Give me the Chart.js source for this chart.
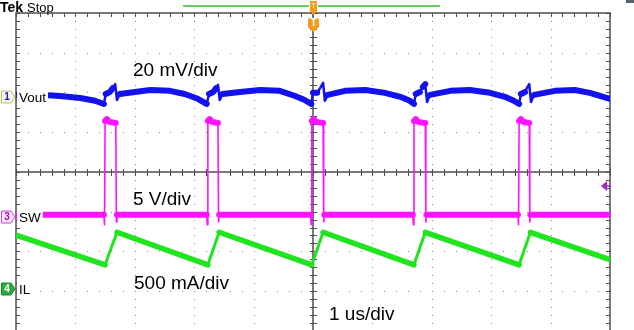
<!DOCTYPE html>
<html>
<head>
<meta charset="utf-8">
<script src="https://cdn.jsdelivr.net/npm/chart.js@4.4.0/dist/chart.umd.min.js"></script>
<style>
  html, body { margin: 0; padding: 0; background: #fff; }
  canvas { display: block; }
</style>
</head>
<body>
<canvas id="scope" width="634" height="330"></canvas>
<script>
// time in us (1 us/div, 0 = trigger), vertical values in screen divisions
const voutTime = [
  -5.00, -4.60, -4.26, -3.92, -3.67, -3.52, -3.49, -3.42, -3.37, -3.33, -3.30, -3.25, -3.00, -2.74, -2.41, -2.16, -1.94, -1.79,
  -1.75, -1.68, -1.63, -1.60, -1.57, -1.52, -1.23, -0.89, -0.56, -0.30, -0.14, -0.03,
  0.00, 0.07, 0.12, 0.17, 0.20, 0.25, 0.54, 0.88, 1.21, 1.47, 1.63, 1.70,
  1.73, 1.80, 1.85, 1.89, 1.92, 1.97, 2.31, 2.64, 2.98, 3.23, 3.38, 3.47,
  3.50, 3.57, 3.60, 3.64, 3.67, 3.72, 4.07, 4.41, 4.66, 5.00
];
const voutDiv = [
  1.94, 1.94, 1.91, 1.86, 1.79, 1.71, 1.96, 2.01, 2.11, 2.21, 1.81, 1.96, 2.01, 2.06, 2.04, 1.96, 1.84, 1.71,
  1.96, 2.01, 2.11, 2.19, 1.81, 1.96, 2.01, 2.06, 2.04, 1.91, 1.81, 1.71,
  1.99, 1.99, 2.11, 2.24, 1.79, 1.94, 2.04, 2.06, 1.99, 1.89, 1.79, 1.71,
  1.96, 2.01, 2.14, 2.21, 1.76, 1.94, 2.04, 2.06, 1.99, 1.89, 1.79, 1.71,
  1.96, 2.01, 2.11, 2.21, 1.76, 1.94, 2.04, 2.06, 1.99, 1.84
];

const swTime = [
  -5.00,
  -3.52, -3.51, -3.50, -3.47, -3.43, -3.32, -3.31, -3.30,
  -1.79, -1.78, -1.77, -1.74, -1.70, -1.60, -1.59, -1.58,
  -0.04, -0.03, -0.02, 0.01, 0.05, 0.17, 0.18, 0.19,
  1.68, 1.69, 1.70, 1.73, 1.77, 1.89, 1.90, 1.91,
  3.45, 3.46, 3.47, 3.50, 3.54, 3.64, 3.65, 3.66,
  5.00
];
const swDiv = [
  -1.08,
  -1.08, -1.33, 1.28, 1.33, 1.26, 1.23, -1.26, -1.08,
  -1.08, -1.33, 1.28, 1.33, 1.26, 1.23, -1.26, -1.08,
  -1.08, -1.33, 1.28, 1.33, 1.26, 1.23, -1.26, -1.08,
  -1.08, -1.33, 1.28, 1.33, 1.26, 1.23, -1.26, -1.08,
  -1.08, -1.33, 1.28, 1.33, 1.26, 1.23, -1.26, -1.08,
  -1.08
];

const ilTime = [-5.00, -3.50, -3.30, -1.77, -1.58, -0.02, 0.17, 1.70, 1.89, 3.47, 3.66, 5.00];
const ilDiv = [-1.59, -2.34, -1.52, -2.34, -1.52, -2.34, -1.52, -2.34, -1.52, -2.34, -1.52, -2.21];

// channel names and ground markers (divisions)
const channelNames = ["Vout", "SW", "IL"];
const channelNumbers = ["1", "3", "4"];
const channelLevels = [1.89, -1.13, -2.95];
const scaleTexts = ["20 mV/div", "5 V/div", "500 mA/div", "1 us/div"];

const toPoints = (ts, vs) => ts.map((t, i) => ({ x: t, y: vs[i] }));

// steep parts of a trace are drawn thin, flat parts as a wide noisy band
const bandWidth = (thick, thin) => (c) =>
  Math.abs(c.p1.y - c.p0.y) > 1.5 * Math.abs(c.p1.x - c.p0.x) ? thin : thick;

const graticule = {
  id: "graticule",
  beforeDatasetsDraw(chart) {
    const { ctx, chartArea: area, scales } = chart;
    const px = (t) => Math.round(scales.x.getPixelForValue(t));
    const py = (v) => Math.round(scales.y.getPixelForValue(v));
    const top = py(4), left = px(-5), right = px(5), bottom = area.bottom;
    const cx = px(0), cy = py(0);
    ctx.save();
    ctx.fillStyle = "#8a8a8a";
    for (let i = -4; i <= 4; i++) {
      if (i === 0) continue;
      for (let k = -20; k <= 20; k++) ctx.fillRect(px(i), py(k / 5), 1, 1);
    }
    for (let j = -3; j <= 3; j++) {
      if (j === 0) continue;
      for (let k = -25; k <= 25; k++) ctx.fillRect(px(k / 5), py(j), 1, 1);
    }
    ctx.strokeStyle = "#4d4d4d";
    ctx.lineWidth = 1.5;
    ctx.beginPath();
    ctx.moveTo(left, bottom); ctx.lineTo(left, top); ctx.lineTo(right, top); ctx.lineTo(right, bottom);
    ctx.moveTo(left, cy); ctx.lineTo(right, cy);
    ctx.moveTo(cx, top); ctx.lineTo(cx, bottom);
    ctx.stroke();
    ctx.lineWidth = 1;
    ctx.beginPath();
    for (let k = -25; k <= 25; k++) {
      const x = px(k / 5) + 0.5;
      ctx.moveTo(x, top); ctx.lineTo(x, top + 4);
      ctx.moveTo(x, cy - 3); ctx.lineTo(x, cy + 4);
    }
    for (let k = -20; k <= 20; k++) {
      const y = py(k / 5) + 0.5;
      ctx.moveTo(left, y); ctx.lineTo(left + 4, y);
      ctx.moveTo(right - 4, y); ctx.lineTo(right, y);
      ctx.moveTo(cx - 3, y); ctx.lineTo(cx + 4, y);
    }
    ctx.stroke();
    ctx.restore();
  },
};

function drawMarker(ctx, y, num, stroke, fill, textColor) {
  ctx.beginPath();
  ctx.moveTo(1.5, y - 6); ctx.lineTo(11, y - 6); ctx.lineTo(15, y);
  ctx.lineTo(11, y + 6); ctx.lineTo(1.5, y + 6); ctx.closePath();
  ctx.fillStyle = fill; ctx.fill();
  ctx.strokeStyle = stroke; ctx.lineWidth = 1; ctx.stroke();
  ctx.fillStyle = textColor;
  ctx.font = "bold 10px Arial";
  ctx.textAlign = "center";
  ctx.textBaseline = "middle";
  ctx.fillText(num, 7, y + 0.5);
}

const overlay = {
  id: "overlay",
  afterDatasetsDraw(chart) {
    const { ctx, scales } = chart;
    ctx.save();
    // header
    ctx.fillStyle = "#000";
    ctx.textAlign = "left";
    ctx.textBaseline = "alphabetic";
    ctx.font = "bold 14px Arial";
    ctx.fillText("Tek", 0, 12);
    ctx.font = "13px Arial";
    ctx.fillText("Stop", 27, 12);
    ctx.strokeStyle = "#2ec02e";
    ctx.lineWidth = 1.5;
    ctx.beginPath();
    ctx.moveTo(183, 6); ctx.lineTo(309, 6);
    ctx.moveTo(318, 6); ctx.lineTo(440, 6);
    ctx.stroke();
    // trigger position markers
    ctx.fillStyle = "#f29b1d";
    ctx.fillRect(310, 1, 7, 10);
    ctx.beginPath(); ctx.moveTo(309, 10); ctx.lineTo(318, 10); ctx.lineTo(313.5, 15); ctx.fill();
    ctx.beginPath();
    ctx.roundRect(308, 18, 11, 10, 2); ctx.fill();
    ctx.beginPath(); ctx.moveTo(308, 27); ctx.lineTo(319, 27); ctx.lineTo(313.5, 32); ctx.fill();
    ctx.fillStyle = "#fde7c0";
    ctx.font = "bold 8px Arial";
    ctx.textAlign = "center";
    ctx.textBaseline = "middle";
    ctx.fillText("T", 313.5, 6);
    ctx.fillStyle = "#fff";
    ctx.font = "bold 10px Arial";
    ctx.fillText("T", 313.5, 23.5);
    // top right indicator
    ctx.fillStyle = "#5a5f70";
    ctx.fillRect(626, 0, 8, 3);
    // trigger level arrow
    ctx.fillStyle = "#a028c0";
    ctx.strokeStyle = "#a028c0";
    ctx.beginPath(); ctx.moveTo(601, 186); ctx.lineTo(607, 181); ctx.lineTo(607, 191); ctx.closePath(); ctx.fill();
    ctx.lineWidth = 1.5;
    ctx.beginPath(); ctx.moveTo(606, 186); ctx.lineTo(611, 186); ctx.stroke();

    // channel markers and names
    const markerStyles = [
      ["#b8bf6a", "#f6f7e4", "#1a1ad8"],
      ["#d040d0", "#fbe8fb", "#c000c0"],
      ["#1f8a2e", "#2ea83c", "#ffffff"],
    ];
    ctx.font = "13.5px Arial";
    channelNames.forEach((name, i) => {
      const y = Math.round(scales.y.getPixelForValue(channelLevels[i]));
      const w = ctx.measureText(name).width;
      ctx.fillStyle = "#fff";
      ctx.fillRect(17, y - 8, w + 4, 15);
      drawMarker(ctx, y, channelNumbers[i], ...markerStyles[i]);
      ctx.font = "13.5px Arial";
      ctx.fillStyle = "#000";
      ctx.textAlign = "left";
      ctx.textBaseline = "middle";
      ctx.fillText(name, 19, y + 1);
    });

    // volts/div notes
    ctx.font = "19px Arial";
    ctx.fillStyle = "#000";
    ctx.textAlign = "left";
    ctx.textBaseline = "alphabetic";
    const notePos = [[133, 76], [133, 205], [134, 289], [329, 320]];
    scaleTexts.forEach((t, i) => ctx.fillText(t, notePos[i][0], notePos[i][1]));
    ctx.restore();
  },
};

new Chart(document.getElementById("scope"), {
  type: "line",
  data: {
    datasets: [
      {
        label: "Vout",
        data: toPoints(voutTime, voutDiv),
        borderColor: "#1212ee",
        borderWidth: 6,
        segment: { borderWidth: bandWidth(6, 2.5) },
      },
      {
        label: "SW",
        data: toPoints(swTime, swDiv),
        borderColor: "#ff14ff",
        borderWidth: 6,
        segment: { borderWidth: bandWidth(6, 1.6) },
      },
      {
        label: "IL",
        data: toPoints(ilTime, ilDiv),
        borderColor: "#20e420",
        borderWidth: 5.5,
        segment: { borderWidth: bandWidth(5.5, 3) },
      },
    ],
  },
  options: {
    responsive: false,
    animation: false,
    devicePixelRatio: 1,
    layout: { padding: { left: 16, right: 24, top: 13, bottom: 0 } },
    elements: {
      point: { radius: 0 },
      line: { tension: 0, borderCapStyle: "round", borderJoinStyle: "round" },
    },
    scales: {
      x: { type: "linear", min: -5, max: 5, display: false },
      y: { type: "linear", min: -3.98, max: 4, display: false },
    },
    plugins: { legend: { display: false }, tooltip: { enabled: false } },
  },
  plugins: [graticule, overlay],
});
</script>
</body>
</html>
